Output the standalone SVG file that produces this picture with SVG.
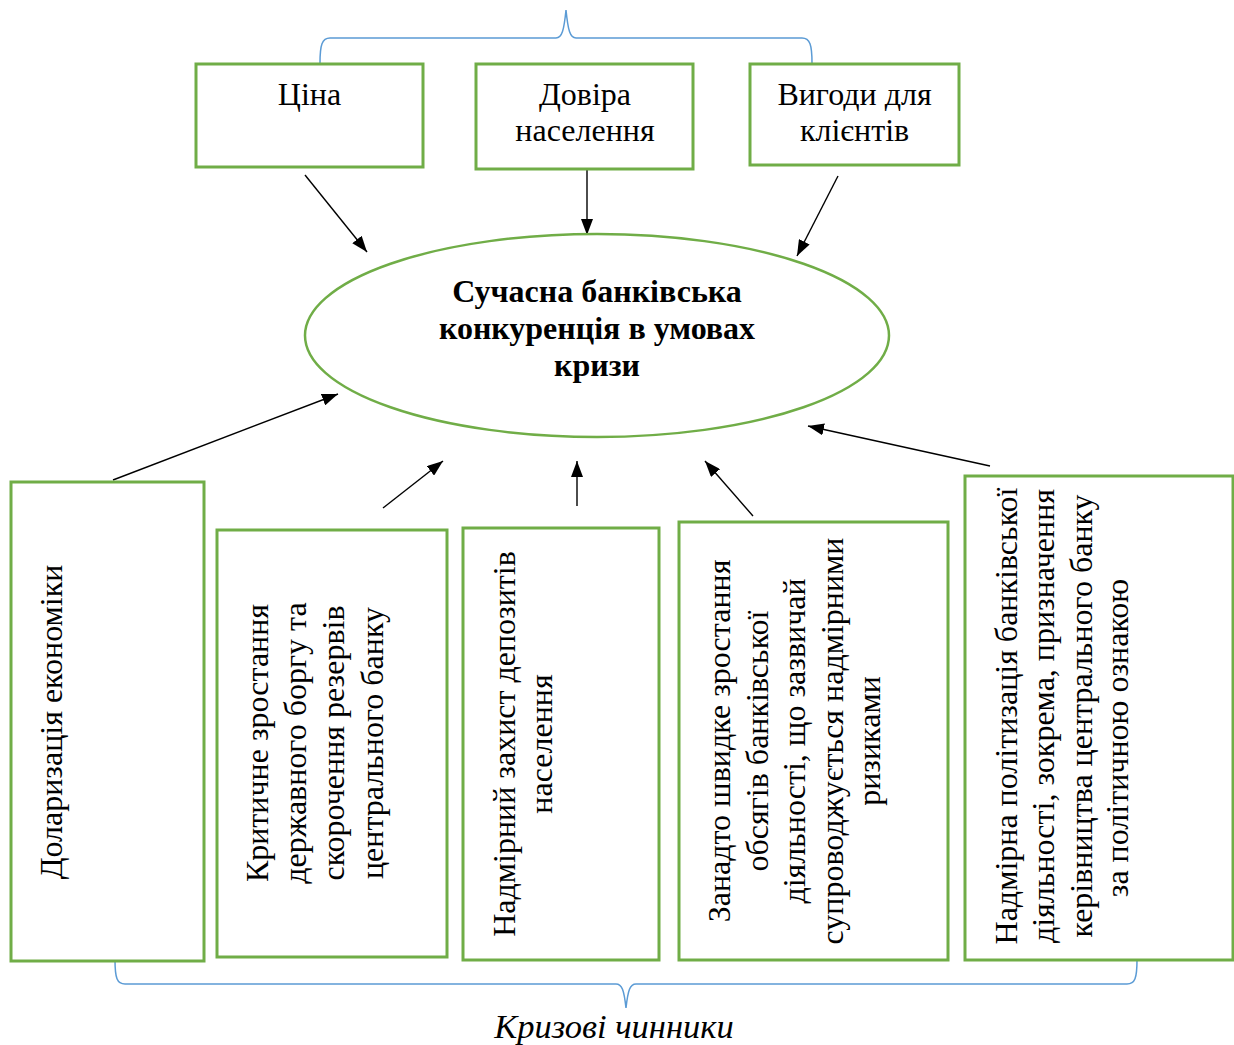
<svg xmlns="http://www.w3.org/2000/svg" width="1234" height="1045" viewBox="0 0 1234 1045">
<style>
.box{fill:#fff;stroke:#70AD47;stroke-width:3}
.ell{fill:#fff;stroke:#70AD47;stroke-width:2.5}
.t{font-family:"Liberation Serif","Times New Roman",serif;font-size:32px;fill:#000;text-anchor:middle}
.b{font-weight:bold;font-size:32px}
.i{font-style:italic;font-size:34.5px}
.br{fill:none;stroke:#5B9BD5;stroke-width:1.5}
.ar{stroke:#000;stroke-width:1.4;fill:none;marker-end:url(#ah)}
</style>
<defs>
<marker id="ah" markerUnits="userSpaceOnUse" markerWidth="16" markerHeight="12" viewBox="0 0 16 12" refX="16" refY="6" orient="auto">
<path d="M0,0 L16,6 L0,12 z" fill="#000"/>
</marker>
</defs>
<rect width="1234" height="1045" fill="#fff"/>
<g id="braces">
<path class="br" d="M320,63 C320,45 322,38 330,38 L556,38 C562,38 564,30 566,10 C568,30 570,38 576,38 L802,38 C810,38 812,45 812,63"/>
<path class="br" d="M115,960 C115,978 117,984 125,984 L616,984 C622,984 624,990 626,1008 C628,990 630,984 636,984 L1127,984 C1135,984 1137,978 1137,960"/>
</g>
<g id="connectors">
<line class="ar" x1="305" y1="175" x2="367" y2="252"/>
<line class="ar" x1="587" y1="167" x2="587" y2="235"/>
<line class="ar" x1="838" y1="176" x2="797" y2="256"/>
<line class="ar" x1="113" y1="480" x2="338" y2="394"/>
<line class="ar" x1="383" y1="508" x2="443" y2="461"/>
<line class="ar" x1="577" y1="506" x2="577" y2="461"/>
<line class="ar" x1="753" y1="516" x2="705" y2="461"/>
<line class="ar" x1="990" y1="466" x2="808" y2="426"/>
</g>
<g id="n-tsina">
<rect class="box" x="196" y="64" width="227" height="103"/>
<text class="t" x="309.5" y="105">Ціна</text>
</g>
<g id="n-dovira">
<rect class="box" x="476" y="64" width="217" height="105"/>
<text class="t" x="585" y="105">Довіра</text>
<text class="t" x="585" y="141">населення</text>
</g>
<g id="n-vyhody">
<rect class="box" x="750" y="64" width="209" height="101"/>
<text class="t" x="854.5" y="105">Вигоди для</text>
<text class="t" x="854.5" y="141">клієнтів</text>
</g>
<g id="n-center">
<ellipse class="ell" cx="597" cy="335.5" rx="292" ry="101.5"/>
<text class="t b" x="597" y="302">Сучасна банківська</text>
<text class="t b" x="597" y="339">конкуренція в умовах</text>
<text class="t b" x="597" y="376">кризи</text>
</g>
<g id="n-dol">
<rect class="box" x="11" y="482" width="193" height="479"/>
<text class="t" transform="translate(62,722) rotate(-90)">Доларизація економіки</text>
</g>
<g id="n-kryt">
<rect class="box" x="217" y="530" width="230" height="427"/>
<g transform="translate(268,743) rotate(-90)">
<text class="t" x="0" y="0">Критичне зростання</text>
<text class="t" x="0" y="38">державного боргу та</text>
<text class="t" x="0" y="76">скорочення резервів</text>
<text class="t" x="0" y="115">центрального банку</text>
</g>
</g>
<g id="n-nadm">
<rect class="box" x="463" y="528" width="196" height="432"/>
<g transform="translate(515,744) rotate(-90)">
<text class="t" x="0" y="0">Надмірний захист депозитів</text>
<text class="t" x="0" y="37">населення</text>
</g>
</g>
<g id="n-zanad">
<rect class="box" x="679" y="522" width="269" height="438"/>
<g transform="translate(730,741) rotate(-90)">
<text class="t" x="0" y="0">Занадто швидке зростання</text>
<text class="t" x="0" y="38">обсягів банківської</text>
<text class="t" x="0" y="75">діяльності, що зазвичай</text>
<text class="t" x="0" y="113">супроводжується надмірними</text>
<text class="t" x="0" y="150">ризиками</text>
</g>
</g>
<g id="n-polit">
<rect class="box" x="965" y="476" width="268" height="484"/>
<g transform="translate(1017,716) rotate(-90)">
<text class="t" x="0" y="0">Надмірна політизація банківської</text>
<text class="t" x="0" y="37">діяльності, зокрема, призначення</text>
<text class="t" x="0" y="75">керівництва центрального банку</text>
<text class="t" x="-22" y="111">за політичною ознакою</text>
</g>
</g>
<text class="t i" x="614" y="1038">Кризові чинники</text>
</svg>
